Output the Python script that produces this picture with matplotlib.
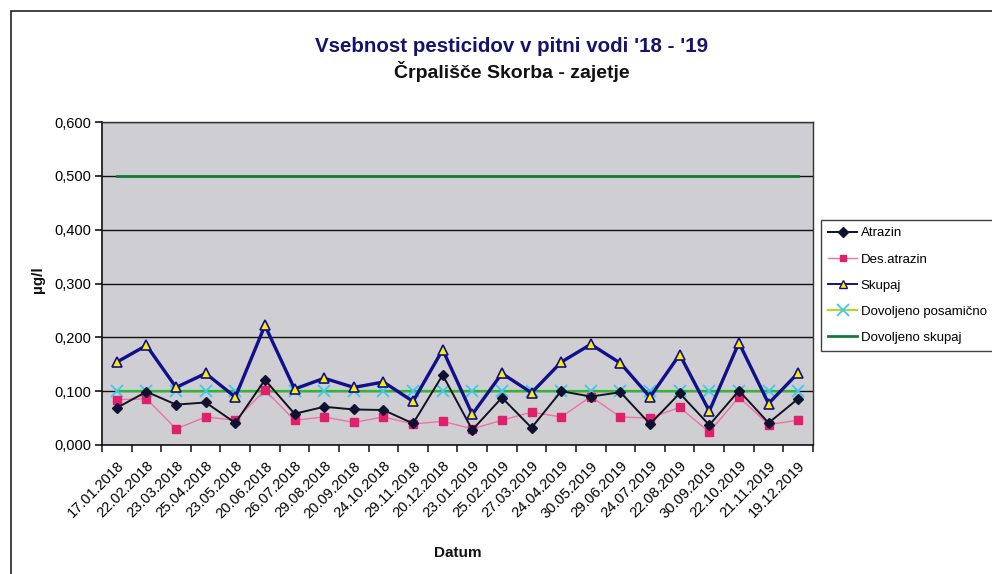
import matplotlib
matplotlib.use("Agg")
import matplotlib.pyplot as plt
from matplotlib.ticker import FuncFormatter, FixedLocator
from matplotlib.patches import Rectangle
from matplotlib.lines import Line2D

plt.rcParams['font.family'] = ['Liberation Sans', 'DejaVu Sans']

dates = ["17.01.2018", "22.02.2018", "23.03.2018", "25.04.2018", "23.05.2018",
         "20.06.2018", "26.07.2018", "29.08.2018", "20.09.2018", "24.10.2018",
         "29.11.2018", "20.12.2018", "23.01.2019", "25.02.2019", "27.03.2019",
         "24.04.2019", "30.05.2019", "29.06.2019", "24.07.2019", "22.08.2019",
         "30.09.2019", "22.10.2019", "21.11.2019", "19.12.2019"]
atrazin = [0.069, 0.099, 0.075, 0.079, 0.041, 0.121, 0.058, 0.071, 0.066, 0.065,
           0.040, 0.130, 0.028, 0.088, 0.032, 0.100, 0.090, 0.098, 0.039, 0.096,
           0.037, 0.101, 0.041, 0.086]
des_atrazin = [0.084, 0.086, 0.030, 0.052, 0.046, 0.102, 0.046, 0.052, 0.042, 0.052,
               0.039, 0.044, 0.030, 0.046, 0.061, 0.052, 0.090, 0.052, 0.050, 0.070,
               0.024, 0.089, 0.038, 0.046]
skupaj = [0.154, 0.185, 0.107, 0.133, 0.089, 0.222, 0.104, 0.124, 0.107, 0.117,
          0.081, 0.177, 0.057, 0.133, 0.097, 0.154, 0.187, 0.152, 0.089, 0.168,
          0.063, 0.190, 0.077, 0.134]
dovoljeno_posamicno = [0.100] * len(dates)
dovoljeno_skupaj = [0.500] * len(dates)
yticks = [0.0, 0.1, 0.2, 0.3, 0.4, 0.5, 0.6]

W, H = 992, 574
fig = plt.figure(figsize=(W / 100, H / 100), dpi=100)
fig.patch.set_facecolor('white')

# outer chart frame (clipped at right/bottom like the scan)
frame = Rectangle((11 / W, -0.1), 1.2, 1 - 11 / H + 0.1, transform=fig.transFigure,
                  fill=False, edgecolor='#222222', linewidth=1.2)
fig.add_artist(frame)

left, right, top, bottom = 102, 813, 122, 445
ax = fig.add_axes([left / W, 1 - bottom / H, (right - left) / W, (bottom - top) / H])
ax.set_facecolor('#cfcfd3')

x = list(range(len(dates)))

ax.plot(x, dovoljeno_skupaj, color='#127a3a', linewidth=2.0, zorder=3,
        label='Dovoljeno skupaj')
ax.plot(x, dovoljeno_posamicno, color='#2dbb2d', linewidth=1.6, marker='x',
        markersize=9, markeredgecolor='#3ec8f0', markeredgewidth=1.3, zorder=3,
        label='Dovoljeno posamično')
ax.plot(x, des_atrazin, color='#f070a8', linewidth=1.0, marker='s', markersize=6,
        markerfacecolor='#e0206a', markeredgecolor='#e0206a', zorder=4,
        label='Des.atrazin')
ax.plot(x, atrazin, color='#111122', linewidth=1.4, marker='D', markersize=5.5,
        markerfacecolor='#101030', markeredgecolor='#101030', zorder=5,
        label='Atrazin')
ax.plot(x, skupaj, color='#10108a', linewidth=2.4, marker='^', markersize=7,
        markerfacecolor='#ffee00', markeredgecolor='#10108a', markeredgewidth=1.2,
        zorder=6, label='Skupaj')

ax.set_xlim(-0.5, len(dates) - 0.5)
ax.set_ylim(0, 0.6)
ax.set_yticks(yticks)
ax.yaxis.set_major_formatter(FuncFormatter(lambda v, p: f"{v:.3f}".replace('.', ',')))
ax.grid(axis='y', color='#111111', linewidth=1.0)
ax.set_axisbelow(True)

ax.set_xticks(x)
ax.set_xticklabels(dates, rotation=45, ha='right', rotation_mode='anchor', fontsize=10.5)
ax.xaxis.set_minor_locator(FixedLocator([i - 0.5 for i in range(len(dates) + 1)]))
ax.tick_params(axis='x', which='major', length=0, pad=10)
ax.tick_params(axis='x', which='minor', length=5, width=1.1, direction='out', color='#111111')
ax.tick_params(axis='y', length=5, width=1.1, direction='out', labelsize=10.5, pad=3)

for s in ['left', 'bottom']:
    ax.spines[s].set_color('#111111')
    ax.spines[s].set_linewidth(1.2)
for s in ['top', 'right']:
    ax.spines[s].set_color('#333333')
    ax.spines[s].set_linewidth(1.0)
    ax.spines[s].set_linestyle((0, (2, 1)))

fig.text(512 / W, 1 - 46 / H, "Vsebnost pesticidov v pitni vodi '18 - '19",
         ha='center', va='center', fontsize=14.8, fontweight='bold', color='#14146e')
fig.text(512 / W, 1 - 72 / H, "Črpališče Skorba - zajetje",
         ha='center', va='center', fontsize=14, fontweight='bold', color='#111111')
fig.text(458 / W, 1 - 553 / H, "Datum", ha='center', va='center',
         fontsize=11, fontweight='bold', color='#111111')
fig.text(38 / W, 1 - 280 / H, "µg/l", ha='center', va='center', rotation=90,
         fontsize=11, fontweight='bold', color='#111111')

# legend
order = ['Atrazin', 'Des.atrazin', 'Skupaj', 'Dovoljeno posamično', 'Dovoljeno skupaj']
leg_handles = [
    Line2D([], [], color='#111122', linewidth=1.4, marker='D', markersize=5,
           markerfacecolor='#101030', markeredgecolor='#101030'),
    Line2D([], [], color='#f070a8', linewidth=1.0, marker='s', markersize=5,
           markerfacecolor='#e0206a', markeredgecolor='#e0206a'),
    Line2D([], [], color='#10108a', linewidth=1.4, marker='^', markersize=6,
           markerfacecolor='#ffee00', markeredgecolor='#10108a'),
    Line2D([], [], color='#b8d820', linewidth=1.6, marker='x', markersize=9,
           markeredgecolor='#3ec8f0', markeredgewidth=1.3),
    Line2D([], [], color='#127a3a', linewidth=2.0),
]
leg = fig.legend(leg_handles, order, loc='upper left',
                 bbox_to_anchor=(821 / W, 1 - 220 / H), bbox_transform=fig.transFigure,
                 fontsize=9.5, frameon=True, fancybox=False, edgecolor='#111111',
                 handlelength=2.2, handletextpad=0.25, labelspacing=1.05,
                 borderpad=0.55, borderaxespad=0)
leg.get_frame().set_linewidth(1.0)

fig.savefig('out.png', dpi=100)
